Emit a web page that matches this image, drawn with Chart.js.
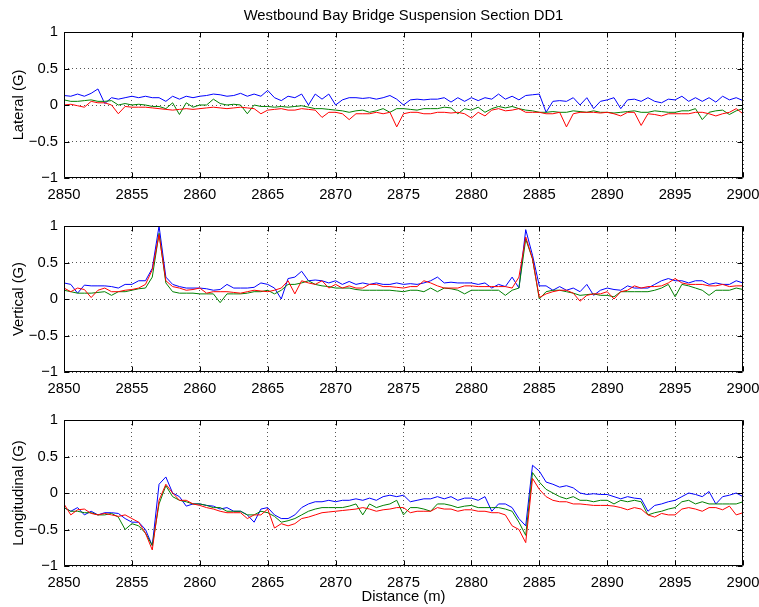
<!DOCTYPE html>
<html>
<head>
<meta charset="utf-8">
<script src="https://cdn.jsdelivr.net/npm/chart.js@4/dist/chart.umd.min.js"></script>
<style>
  body { margin: 0; background: #fff; }
  #wrap { position: relative; width: 759px; height: 607px; background: #fff; overflow: hidden; }
  canvas { position: absolute; left: 0; }
</style>
</head>
<body>
<div id="wrap">
  <canvas id="lateral" width="759" height="200" style="top:0px"></canvas>
  <canvas id="vertical" width="759" height="194" style="top:200px"></canvas>
  <canvas id="longitudinal" width="759" height="213" style="top:394px"></canvas>
</div>
<script>
var chartTitle = 'Westbound Bay Bridge Suspension Section DD1'
var xTitle = 'Distance (m)'
var panelTitles = ['Lateral (G)', 'Vertical (G)', 'Longitudinal (G)']

var xTicks = [2850, 2855, 2860, 2865, 2870, 2875, 2880, 2885, 2890, 2895, 2900]
var yTicks = [-1, -0.5, 0, 0.5, 1]

var distance = [
    2850, 2850.5, 2851, 2851.5, 2852, 2852.5, 2853, 2853.5, 2854, 2854.5,
    2855, 2855.5, 2856, 2856.5, 2857, 2857.5, 2858, 2858.5, 2859, 2859.5,
    2860, 2860.5, 2861, 2861.5, 2862, 2862.5, 2863, 2863.5, 2864, 2864.5,
    2865, 2865.5, 2866, 2866.5, 2867, 2867.5, 2868, 2868.5, 2869, 2869.5,
    2870, 2870.5, 2871, 2871.5, 2872, 2872.5, 2873, 2873.5, 2874, 2874.5,
    2875, 2875.5, 2876, 2876.5, 2877, 2877.5, 2878, 2878.5, 2879, 2879.5,
    2880, 2880.5, 2881, 2881.5, 2882, 2882.5, 2883, 2883.5, 2884, 2884.5,
    2885, 2885.5, 2886, 2886.5, 2887, 2887.5, 2888, 2888.5, 2889, 2889.5,
    2890, 2890.5, 2891, 2891.5, 2892, 2892.5, 2893, 2893.5, 2894, 2894.5,
    2895, 2895.5, 2896, 2896.5, 2897, 2897.5, 2898, 2898.5, 2899, 2899.5,
    2900
]

// lateral
var lateralBlue = [
    0.13, 0.12, 0.15, 0.12, 0.16, 0.22, 0.02, 0.10, 0.08, 0.10,
    0.12, 0.10, 0.12, 0.10, 0.10, 0.05, 0.12, 0.08, 0.12, 0.10,
    0.12, 0.13, 0.15, 0.14, 0.12, 0.13, 0.16, 0.12, 0.15, 0.12,
    0.20, 0.10, 0.06, 0.12, 0.10, 0.15, 0.00, 0.15, 0.08, 0.15,
    0.00, 0.07, 0.10, 0.10, 0.09, 0.10, 0.08, 0.10, 0.13, 0.08,
    0.00, 0.07, 0.08, 0.07, 0.08, 0.08, 0.10, 0.04, 0.10, 0.05,
    0.10, 0.06, 0.10, 0.08, 0.15, 0.08, 0.12, 0.07, 0.13, 0.14,
    0.15, -0.10, 0.05, 0.06, 0.05, 0.10, 0.00, 0.10, -0.05, 0.05,
    0.07, 0.10, -0.05, 0.07, 0.08, 0.05, 0.10, 0.05, 0.03, 0.08,
    0.07, 0.12, 0.05, 0.10, 0.05, 0.10, 0.04, 0.12, 0.07, 0.10,
    0.06
]
var lateralGreen = [
    0.07, 0.05, 0.05, 0.06, 0.07, 0.05, 0.05, 0.06, 0.00, 0.02,
    0.00, 0.01, 0.00, -0.02, -0.02, -0.05, 0.03, -0.13, 0.03, -0.03,
    0.00, 0.00, 0.08, 0.02, 0.00, 0.01, 0.00, -0.12, 0.00, -0.02,
    -0.02, -0.03, -0.02, -0.03, -0.02, -0.01, -0.03, -0.05, -0.05, -0.06,
    -0.07, -0.08, -0.10, -0.08, -0.07, -0.10, -0.08, -0.05, -0.10, -0.05,
    -0.05, -0.06, -0.07, -0.05, -0.05, -0.05, -0.03, -0.04, -0.12, -0.05,
    -0.07, -0.03, -0.10, -0.05, -0.02, -0.04, -0.02, -0.05, -0.07, -0.08,
    -0.10, -0.10, -0.09, -0.10, -0.10, -0.08, -0.09, -0.10, -0.08, -0.10,
    -0.10, -0.11, -0.10, -0.09, -0.08, -0.10, -0.10, -0.08, -0.09, -0.10,
    -0.10, -0.08, -0.08, -0.05, -0.20, -0.10, -0.08, -0.07, -0.13, -0.08,
    -0.05
]
var lateralRed = [
    0.00, 0.01, -0.01, -0.03, 0.05, 0.03, 0.03, 0.00, -0.12, -0.02,
    -0.03, -0.03, -0.03, -0.04, -0.05, -0.06, -0.07, -0.06, -0.05, -0.06,
    -0.05, -0.04, -0.03, -0.04, -0.05, -0.04, -0.03, -0.04, -0.05, -0.12,
    -0.07, -0.06, -0.05, -0.07, -0.07, -0.05, -0.06, -0.07, -0.17, -0.10,
    -0.10, -0.12, -0.20, -0.12, -0.12, -0.12, -0.10, -0.12, -0.10, -0.30,
    -0.12, -0.10, -0.10, -0.12, -0.12, -0.10, -0.10, -0.11, -0.10, -0.12,
    -0.18, -0.10, -0.15, -0.07, -0.05, -0.08, -0.07, -0.05, -0.10, -0.10,
    -0.10, -0.12, -0.12, -0.10, -0.30, -0.12, -0.10, -0.10, -0.10, -0.11,
    -0.10, -0.12, -0.15, -0.10, -0.10, -0.28, -0.12, -0.13, -0.15, -0.12,
    -0.12, -0.12, -0.12, -0.10, -0.10, -0.12, -0.15, -0.12, -0.10, -0.05,
    -0.12
]

// vertical
var verticalBlue = [
    0.22, 0.20, 0.08, 0.19, 0.18, 0.18, 0.18, 0.17, 0.15, 0.20,
    0.20, 0.25, 0.25, 0.42, 1.00, 0.30, 0.20, 0.17, 0.15, 0.15,
    0.15, 0.14, 0.12, 0.13, 0.20, 0.15, 0.15, 0.15, 0.16, 0.22,
    0.20, 0.15, 0.00, 0.28, 0.30, 0.38, 0.25, 0.26, 0.25, 0.22,
    0.25, 0.20, 0.24, 0.20, 0.22, 0.20, 0.22, 0.20, 0.20, 0.22,
    0.20, 0.21, 0.20, 0.22, 0.25, 0.30, 0.22, 0.23, 0.22, 0.22,
    0.22, 0.20, 0.22, 0.15, 0.20, 0.17, 0.30, 0.15, 0.95, 0.60,
    0.18, 0.18, 0.12, 0.17, 0.12, 0.15, 0.10, 0.20, 0.05, 0.12,
    0.15, 0.13, 0.12, 0.18, 0.15, 0.15, 0.15, 0.20, 0.25, 0.28,
    0.25, 0.25, 0.22, 0.25, 0.25, 0.20, 0.22, 0.20, 0.20, 0.25,
    0.22
]
var verticalGreen = [
    0.12, 0.10, 0.08, 0.08, 0.08, 0.09, 0.10, 0.05, 0.10, 0.10,
    0.12, 0.14, 0.15, 0.30, 0.90, 0.22, 0.10, 0.08, 0.08, 0.08,
    0.07, 0.07, 0.07, -0.05, 0.07, 0.07, 0.07, 0.08, 0.10, 0.10,
    0.12, 0.07, 0.12, 0.20, 0.20, 0.22, 0.25, 0.20, 0.18, 0.17,
    0.15, 0.15, 0.15, 0.13, 0.12, 0.12, 0.12, 0.12, 0.12, 0.11,
    0.10, 0.12, 0.12, 0.10, 0.15, 0.10, 0.15, 0.14, 0.12, 0.07,
    0.12, 0.12, 0.12, 0.12, 0.12, 0.05, 0.12, 0.15, 0.82, 0.55,
    0.00, 0.10, 0.12, 0.12, 0.10, 0.08, 0.05, 0.06, 0.07, 0.05,
    0.05, 0.03, 0.10, 0.10, 0.10, 0.10, 0.10, 0.12, 0.15, 0.20,
    0.03, 0.20, 0.18, 0.15, 0.12, 0.05, 0.12, 0.12, 0.12, 0.15,
    0.13
]
var verticalRed = [
    0.15, 0.10, 0.15, 0.13, 0.02, 0.12, 0.15, 0.10, 0.10, 0.12,
    0.13, 0.15, 0.20, 0.40, 0.88, 0.25, 0.17, 0.15, 0.12, 0.13,
    0.15, 0.08, 0.10, 0.10, 0.10, 0.09, 0.08, 0.10, 0.12, 0.11,
    0.10, 0.12, 0.15, 0.25, 0.07, 0.25, 0.22, 0.20, 0.25, 0.15,
    0.20, 0.15, 0.18, 0.15, 0.15, 0.20, 0.20, 0.17, 0.17, 0.16,
    0.15, 0.17, 0.17, 0.25, 0.22, 0.18, 0.15, 0.15, 0.15, 0.18,
    0.18, 0.17, 0.17, 0.17, 0.17, 0.17, 0.15, 0.30, 0.85, 0.55,
    0.02, 0.07, 0.10, 0.12, 0.12, 0.08, -0.03, 0.05, 0.07, 0.07,
    0.10, 0.00, 0.10, 0.12, 0.18, 0.15, 0.17, 0.17, 0.18, 0.22,
    0.28, 0.22, 0.20, 0.20, 0.20, 0.18, 0.18, 0.20, 0.17, 0.18,
    0.18
]

// longitudinal
var longBlue = [
    -0.20, -0.25, -0.20, -0.30, -0.25, -0.30, -0.27, -0.27, -0.28, -0.35,
    -0.40, -0.40, -0.50, -0.72, 0.12, 0.22, 0.00, -0.05, -0.18, -0.15,
    -0.15, -0.17, -0.18, -0.22, -0.20, -0.25, -0.25, -0.30, -0.40, -0.22,
    -0.20, -0.30, -0.35, -0.35, -0.30, -0.20, -0.15, -0.12, -0.12, -0.10,
    -0.12, -0.10, -0.10, -0.08, -0.10, -0.07, -0.10, -0.05, -0.03, -0.05,
    -0.03, -0.12, -0.10, -0.08, -0.08, -0.05, -0.08, -0.05, -0.10, -0.07,
    -0.07, -0.10, -0.05, -0.25, -0.15, -0.15, -0.20, -0.35, -0.45, 0.38,
    0.30, 0.15, 0.12, 0.08, 0.10, 0.07, 0.00, -0.02, -0.01, -0.02,
    -0.02, -0.05, -0.08, -0.05, -0.07, -0.08, -0.25, -0.17, -0.15, -0.12,
    -0.10, -0.05, 0.00, -0.02, -0.05, 0.02, -0.15, -0.05, -0.03, 0.00,
    -0.05
]
var longGreen = [
    -0.20, -0.25, -0.25, -0.27, -0.27, -0.30, -0.30, -0.28, -0.33, -0.50,
    -0.42, -0.45, -0.55, -0.72, -0.15, 0.10, -0.05, -0.10, -0.12, -0.15,
    -0.15, -0.17, -0.20, -0.20, -0.25, -0.25, -0.25, -0.30, -0.30, -0.25,
    -0.27, -0.32, -0.40, -0.38, -0.35, -0.30, -0.25, -0.22, -0.20, -0.20,
    -0.20, -0.20, -0.18, -0.15, -0.30, -0.15, -0.20, -0.17, -0.15, -0.10,
    -0.30, -0.20, -0.20, -0.22, -0.25, -0.15, -0.15, -0.17, -0.20, -0.18,
    -0.17, -0.20, -0.20, -0.20, -0.20, -0.22, -0.25, -0.40, -0.58, 0.28,
    0.15, 0.05, 0.00, -0.05, -0.08, -0.05, -0.10, -0.10, -0.12, -0.10,
    -0.10, -0.15, -0.10, -0.12, -0.10, -0.12, -0.30, -0.27, -0.25, -0.22,
    -0.20, -0.12, -0.10, -0.15, -0.12, -0.15, -0.15, -0.15, -0.15, -0.15,
    -0.12
]
var longRed = [
    -0.15, -0.30, -0.23, -0.22, -0.28, -0.30, -0.28, -0.30, -0.32, -0.30,
    -0.35, -0.40, -0.55, -0.78, -0.10, 0.12, 0.00, -0.10, -0.10, -0.15,
    -0.17, -0.20, -0.22, -0.25, -0.27, -0.27, -0.27, -0.35, -0.30, -0.30,
    -0.22, -0.48, -0.42, -0.45, -0.42, -0.35, -0.33, -0.30, -0.27, -0.26,
    -0.25, -0.24, -0.23, -0.22, -0.20, -0.22, -0.25, -0.23, -0.22, -0.20,
    -0.20, -0.27, -0.25, -0.25, -0.25, -0.20, -0.22, -0.22, -0.25, -0.23,
    -0.23, -0.25, -0.25, -0.27, -0.27, -0.30, -0.45, -0.50, -0.68, 0.20,
    0.05, -0.05, -0.10, -0.12, -0.12, -0.15, -0.15, -0.16, -0.17, -0.17,
    -0.17, -0.18, -0.20, -0.23, -0.20, -0.22, -0.30, -0.33, -0.28, -0.30,
    -0.30, -0.22, -0.20, -0.22, -0.25, -0.20, -0.20, -0.23, -0.18, -0.30,
    -0.27
]

var fontFamily = "'Liberation Sans', Arial, Helvetica, sans-serif"
var fontSize = 14.8
Chart.defaults.font.family = fontFamily
Chart.defaults.font.size = fontSize
Chart.defaults.color = '#000'

function points(values) {
    return distance.map(function (d, i) { return { x: d, y: values[i] } })
}

function minus(v) {
    return v < 0 ? '\u2212' + Math.abs(v) : String(v)
}

// box round the axes plus the small inward ticks, matlab style
var framePlugin = {
    id: 'frame',
    afterDraw: function (chart) {
        var ctx = chart.ctx
        var a = chart.chartArea
        var xs = chart.scales.x
        var ys = chart.scales.y
        var l = Math.round(a.left) + 0.5, r = Math.round(a.right) - 0.5
        var t = Math.round(a.top) + 0.5, b = Math.round(a.bottom) - 0.5
        ctx.save()
        ctx.strokeStyle = '#000'
        ctx.lineWidth = 1
        ctx.beginPath()
        ctx.rect(l, t, r - l, b - t)
        xTicks.forEach(function (v) {
            var px = Math.round(xs.getPixelForValue(v)) + 0.5
            ctx.moveTo(px, t); ctx.lineTo(px, t + 5)
            ctx.moveTo(px, b); ctx.lineTo(px, b - 5)
        })
        yTicks.forEach(function (v) {
            var py = Math.round(ys.getPixelForValue(v)) + 0.5
            ctx.moveTo(l, py); ctx.lineTo(l + 5, py)
            ctx.moveTo(r, py); ctx.lineTo(r - 5, py)
        })
        ctx.stroke()
        if (chart.options.plugins.frame && chart.options.plugins.frame.title) {
            ctx.fillStyle = '#000'
            ctx.font = fontSize + 'px ' + fontFamily
            ctx.textAlign = 'center'
            ctx.textBaseline = 'alphabetic'
            ctx.fillText(chart.options.plugins.frame.title, (a.left + a.right) / 2, 20)
        }
        ctx.restore()
    }
}

function createPanel(id, yLabel, blue, green, red, opts) {
    var ctx = document.getElementById(id).getContext('2d')
    return new Chart(ctx, {
        type: 'line',
        data: {
            datasets: [
                { data: points(blue), borderColor: '#0000ff', borderWidth: 1, pointRadius: 0, order: 3 },
                { data: points(green), borderColor: '#008000', borderWidth: 1, pointRadius: 0, order: 2 },
                { data: points(red), borderColor: '#ff0000', borderWidth: 1, pointRadius: 0, order: 1 }
            ]
        },
        options: {
            responsive: false,
            animation: false,
            events: [],
            layout: { padding: { top: opts.top, right: 16, bottom: 0, left: 0 } },
            plugins: {
                legend: { display: false },
                tooltip: { enabled: false },
                frame: { title: opts.title || '' }
            },
            scales: {
                x: {
                    type: 'linear',
                    min: 2850,
                    max: 2900,
                    afterBuildTicks: function (scale) {
                        scale.ticks = xTicks.map(function (v) { return { value: v } })
                    },
                    afterFit: function (scale) {
                        // let the 2900 label run past the edge like the original
                        scale.height = opts.xHeight
                        scale.paddingLeft = 0
                        scale.paddingRight = 0
                    },
                    ticks: { padding: 8, maxRotation: 0, autoSkip: false, callback: function (v) { return String(v) } },
                    grid: { color: '#555', lineWidth: 1, drawTicks: false },
                    border: { display: false, dash: [1, 3] },
                    title: {
                        display: !!opts.xTitle,
                        text: opts.xTitle || '',
                        padding: { top: 0, bottom: 1 }
                    }
                },
                y: {
                    min: -1,
                    max: 1,
                    afterBuildTicks: function (scale) {
                        scale.ticks = yTicks.map(function (v) { return { value: v } })
                    },
                    afterFit: function (scale) { scale.width = 64 },
                    ticks: { padding: 6, callback: minus },
                    grid: { color: '#555', lineWidth: 1, drawTicks: false },
                    border: { display: false, dash: [1, 3] },
                    title: {
                        display: true,
                        text: yLabel,
                        padding: { top: 10, bottom: 0 }
                    }
                }
            }
        },
        plugins: [framePlugin]
    })
}

createPanel('lateral', panelTitles[0], lateralBlue, lateralGreen, lateralRed,
    { top: 32, xHeight: 22, title: chartTitle })
createPanel('vertical', panelTitles[1], verticalBlue, verticalGreen, verticalRed,
    { top: 26, xHeight: 22 })
createPanel('longitudinal', panelTitles[2], longBlue, longGreen, longRed,
    { top: 26, xHeight: 41, xTitle: xTitle })
</script>
</body>
</html>
